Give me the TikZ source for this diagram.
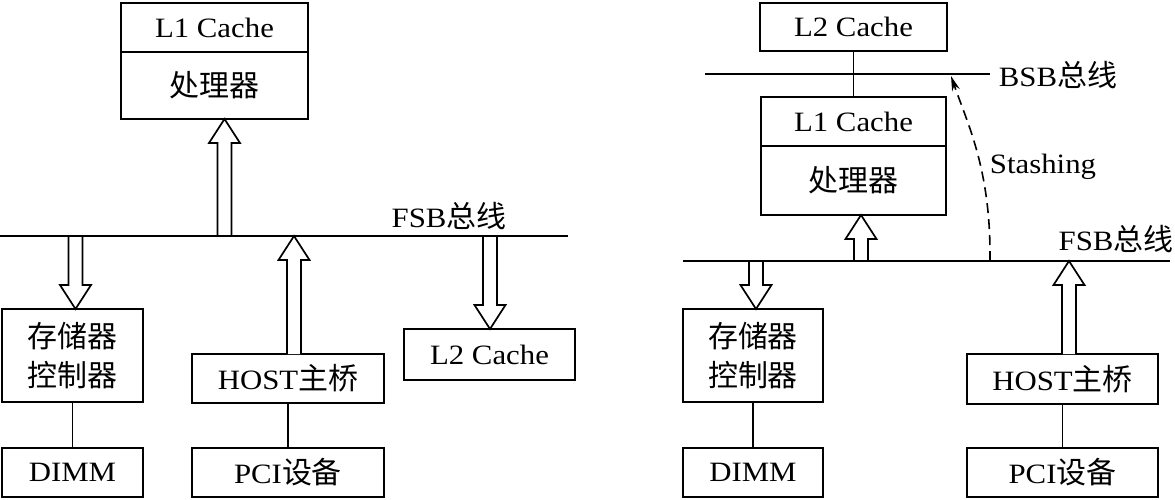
\documentclass[tikz,border=0pt]{standalone}
\usepackage{fontspec}
\setmainfont{Liberation Serif}[FakeStretch=1.1]
\newfontfamily\cjk{Noto Sans CJK SC}[Scale=1.07]
\usetikzlibrary{arrows.meta,calc}

\tikzset{
  box/.style={draw, line width=2.8pt, inner sep=0pt, outer sep=0pt,
    font=\fontsize{28}{38.5}\selectfont, align=center},
  bus/.style={line width=1.8pt},
  wire/.style={line width=1.9pt},
  fat/.style={draw, line width=1.7pt, fill=white, line join=miter},
  dashar/.style={line width=1.6pt, dash pattern=on 10pt off 6pt,
    -{Stealth[length=15pt,width=8pt]}},
  lbl/.style={font=\fontsize{28}{34}\selectfont, inner sep=0pt},
}

% hollow arrow, tip above tail
\newcommand{\fatup}[2]{%
  \path let \p1=(#1), \p2=(#2) in
    [fat] (\x1-7pt,\y1) -- (\x1-7pt,\y2-24pt) -- (\x1-15.5pt,\y2-24pt) -- (\x1,\y2)
      -- (\x1+15.5pt,\y2-24pt) -- (\x1+7pt,\y2-24pt) -- (\x1+7pt,\y1);}
% hollow arrow, tip below tail
\newcommand{\fatdown}[2]{%
  \path let \p1=(#1), \p2=(#2) in
    [fat] (\x1-7pt,\y1) -- (\x1-7pt,\y2+24pt) -- (\x1-15.5pt,\y2+24pt) -- (\x1,\y2)
      -- (\x1+15.5pt,\y2+24pt) -- (\x1+7pt,\y2+24pt) -- (\x1+7pt,\y1);}

\begin{document}
\begin{tikzpicture}[x=1pt,y=-1pt]
\useasboundingbox (0,0) rectangle (1175,499);

% ---------------- left diagram ----------------
\node[box, minimum width=187pt, minimum height=49pt] (l1L) at (214.5,27.5) {L1 Cache};
\node[box, minimum width=187pt, minimum height=67pt] (cpuL) at (214.5,85.5) {\cjk 处理器};
\node[box, minimum width=141pt, minimum height=93pt] (memL) at (72.5,355.5) {\cjk 存储器\\\cjk 控制器};
\node[box, minimum width=141pt, minimum height=49pt] (dimmL) at (72.5,472.5) {DIMM};
\node[box, minimum width=192pt, minimum height=49pt] (hostL) at (288,378.5) {HOST{\cjk 主桥}};
\node[box, minimum width=192pt, minimum height=49pt] (pciL) at (288,472.5) {PCI{\cjk 设备}};
\node[box, minimum width=171pt, minimum height=51pt] (l2L) at (489.5,354.5) {L2 Cache};
\node[lbl] (fsbLtxt) at (449,216) {FSB{\cjk 总线}};

\coordinate (fsbL0) at (0,236);
\coordinate (fsbL1) at (568,236);
\coordinate (aCpuL) at (224.5,236);
\coordinate (aMemL) at (75.5,236);
\coordinate (aHostL) at (294,236);
\coordinate (aL2L) at (490,236);

\fatup{aCpuL}{aCpuL |- cpuL.south}
\fatdown{aMemL}{aMemL |- memL.north}
\fatup{aHostL |- hostL.north}{aHostL}
\fatdown{aL2L}{aL2L |- l2L.north}

\draw[bus] (fsbL0) -- (fsbL1);
\draw[wire] (memL.south) -- (dimmL.north);
\draw[wire] (hostL.south) -- (pciL.north);

% ---------------- right diagram ----------------
\node[box, minimum width=187pt, minimum height=48pt] (l2R) at (853.5,27) {L2 Cache};
\node[box, minimum width=185pt, minimum height=49pt] (l1R) at (853.5,121.5) {L1 Cache};
\node[box, minimum width=185pt, minimum height=69pt] (cpuR) at (853.5,180.5) {\cjk 处理器};
\node[box, minimum width=140pt, minimum height=93pt] (memR) at (753,355.5) {\cjk 存储器\\\cjk 控制器};
\node[box, minimum width=140pt, minimum height=49pt] (dimmR) at (753,472.5) {DIMM};
\node[box, minimum width=191pt, minimum height=50pt] (hostR) at (1062.5,379) {HOST{\cjk 主桥}};
\node[box, minimum width=191pt, minimum height=49pt] (pciR) at (1062.5,472.5) {PCI{\cjk 设备}};
\node[lbl] (bsbtxt) at (1058,75) {BSB{\cjk 总线}};
\node[lbl] (fsbRtxt) at (1116,239) {FSB{\cjk 总线}};
\node[lbl] (stash) at (1043,167) {Stashing};

\coordinate (fsbR0) at (683,261);
\coordinate (fsbR1) at (1170,261);
\coordinate (bsb0) at (705,74);
\coordinate (bsb1) at (990,74);
\coordinate (aCpuR) at (861,261);
\coordinate (aMemR) at (756,261);
\coordinate (aHostR) at (1069,261);
\coordinate (st0) at (990,261);
\coordinate (st1) at (951,76);

\fatup{aCpuR}{aCpuR |- cpuR.south}
\fatdown{aMemR}{aMemR |- memR.north}
\fatup{aHostR |- hostR.north}{aHostR}

\draw[bus] (fsbR0) -- (fsbR1);
\draw[bus] (bsb0) -- (bsb1);
\draw[wire] (l2R.south) -- (l1R.north);
\draw[wire] (memR.south) -- (dimmR.north);
\draw[wire] (hostR.south) -- (pciR.north);
\draw[dashar] (st0) .. controls (991,170) and (968,125) .. (st1);
\end{tikzpicture}
\end{document}
